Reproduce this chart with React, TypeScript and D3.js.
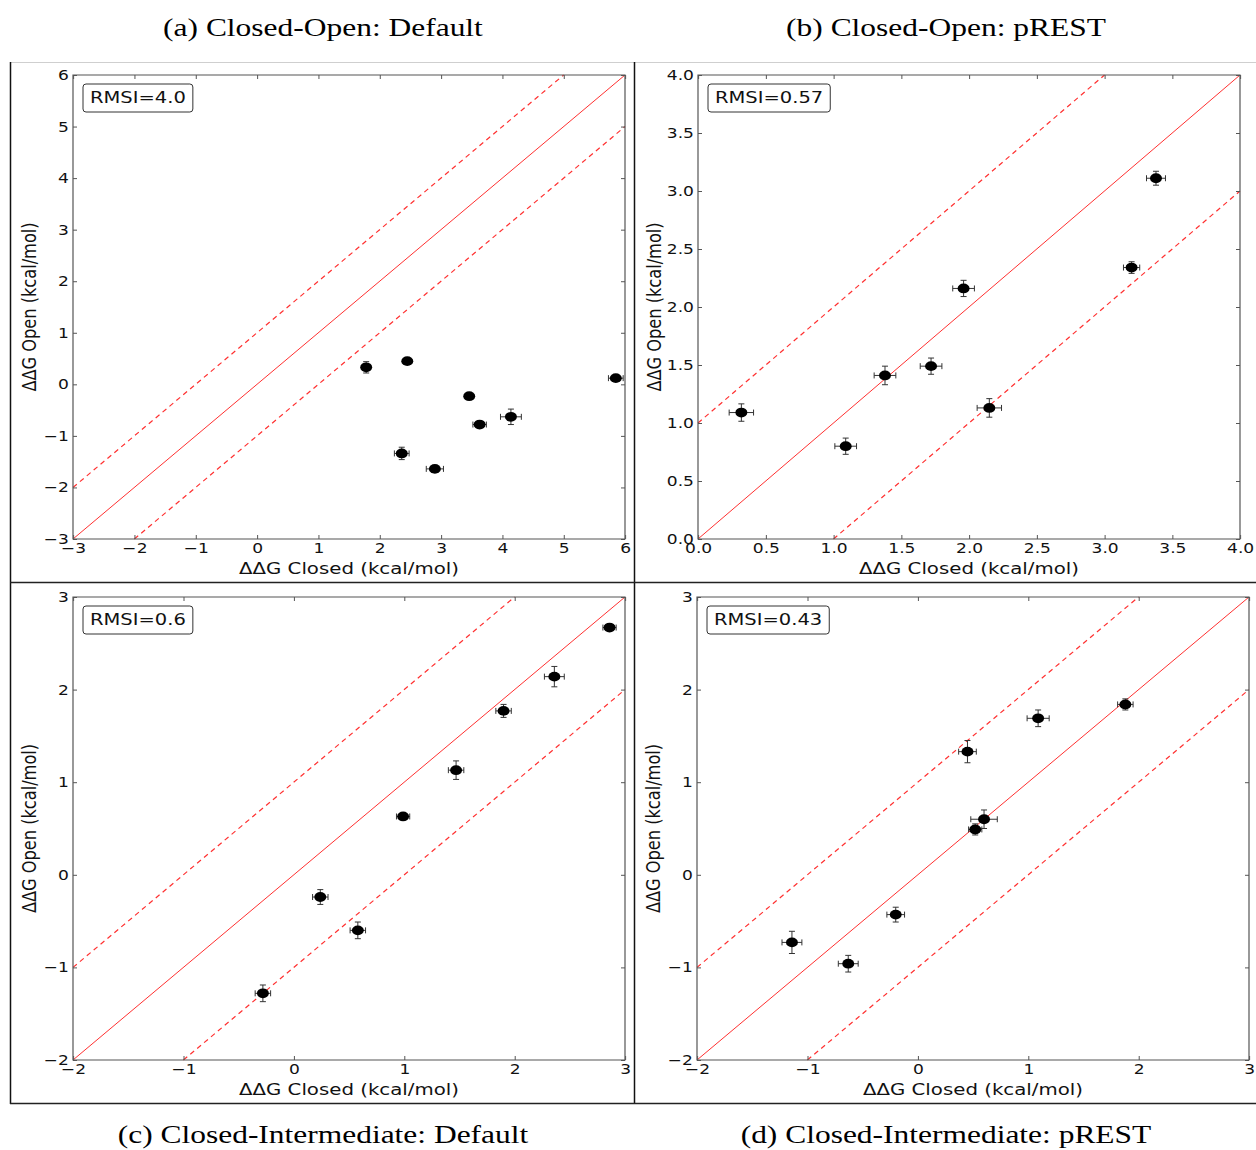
import React, { useRef, useEffect } from 'react'
import * as d3 from 'd3'

// the source page is stretched sideways, so everything is drawn in a squeezed
// space and widened back by SX
const SX = 1.22
const SANS = '"DejaVu Sans", sans-serif'
const SERIF = '"Liberation Serif", serif'

// (a) Closed-Open: Default
const aClosed = [1.78, 2.45, 2.36, 2.9, 3.46, 3.63, 4.14, 5.85]
const aOpen = [0.33, 0.45, -1.34, -1.64, -0.23, -0.78, -0.63, 0.12]
const aClosedErr = [0.06, 0.04, 0.12, 0.14, 0.05, 0.11, 0.17, 0.12]
const aOpenErr = [0.11, 0.04, 0.12, 0.04, 0.04, 0.06, 0.15, 0.04]

// (b) Closed-Open: pREST
const bClosed = [0.32, 1.09, 1.38, 1.72, 1.96, 2.15, 3.2, 3.38]
const bOpen = [1.09, 0.8, 1.41, 1.49, 2.16, 1.13, 2.34, 3.11]
const bClosedErr = [0.09, 0.08, 0.08, 0.08, 0.08, 0.09, 0.06, 0.07]
const bOpenErr = [0.075, 0.07, 0.08, 0.07, 0.07, 0.08, 0.05, 0.06]

// (c) Closed-Intermediate: Default
const cClosed = [-0.28, 0.24, 0.58, 0.99, 1.47, 1.9, 2.36, 2.86]
const cOpen = [-1.28, -0.24, -0.6, 0.63, 1.13, 1.77, 2.14, 2.67]
const cClosedErr = [0.07, 0.07, 0.07, 0.06, 0.07, 0.07, 0.09, 0.06]
const cOpenErr = [0.09, 0.08, 0.09, 0.03, 0.1, 0.07, 0.11, 0.03]

// (d) Closed-Intermediate: pREST
const dClosed = [-1.14, -0.63, -0.2, 0.45, 0.52, 0.6, 1.09, 1.88]
const dOpen = [-0.73, -0.96, -0.43, 1.33, 0.49, 0.6, 1.69, 1.84]
const dClosedErr = [0.09, 0.09, 0.08, 0.08, 0.06, 0.12, 0.1, 0.07]
const dOpenErr = [0.12, 0.09, 0.08, 0.12, 0.06, 0.1, 0.09, 0.06]

const ticksA = [-3, -2, -1, 0, 1, 2, 3, 4, 5, 6]
const ticksB = [0, 0.5, 1, 1.5, 2, 2.5, 3, 3.5, 4]
const ticksCD = [-2, -1, 0, 1, 2, 3]

const rmsiLabels = ['RMSI=4.0', 'RMSI=0.57', 'RMSI=0.6', 'RMSI=0.43']
const captions = [
  '(a) Closed-Open: Default',
  '(b) Closed-Open: pREST',
  '(c) Closed-Intermediate: Default',
  '(d) Closed-Intermediate: pREST',
]

const xLabel = 'ΔΔG Closed (kcal/mol)'
const yLabel = 'ΔΔG Open (kcal/mol)'

const zipPoints = (xs: number[], ys: number[], xe: number[], ye: number[]) =>
  xs.map((x, i) => ({ x, y: ys[i], xe: xe[i], ye: ye[i] }))

const panels = [
  { left: 73, right: 625, top: 75, bottom: 539, domain: [-3, 6], ticks: ticksA, dec: false,
    points: zipPoints(aClosed, aOpen, aClosedErr, aOpenErr), rmsi: rmsiLabels[0] },
  { left: 698, right: 1240, top: 75, bottom: 539, domain: [0, 4], ticks: ticksB, dec: true,
    points: zipPoints(bClosed, bOpen, bClosedErr, bOpenErr), rmsi: rmsiLabels[1] },
  { left: 73, right: 625, top: 597, bottom: 1060, domain: [-2, 3], ticks: ticksCD, dec: false,
    points: zipPoints(cClosed, cOpen, cClosedErr, cOpenErr), rmsi: rmsiLabels[2] },
  { left: 697, right: 1249, top: 597, bottom: 1060, domain: [-2, 3], ticks: ticksCD, dec: false,
    points: zipPoints(dClosed, dOpen, dClosedErr, dOpenErr), rmsi: rmsiLabels[3] },
]

export default function App() {
  const svgRef = useRef<SVGSVGElement>(null)

  useEffect(() => {
    const svg = d3.select(svgRef.current)
    svg.selectAll('*').remove()

    // frames around the four sub-figures
    const frame = svg.append('g')
    frame.append('line').attr('x1', 10).attr('x2', 1256).attr('y1', 62.5).attr('y2', 62.5)
      .attr('stroke', '#cfcfcf').attr('stroke-width', 1.2)
    ;[10.5, 634.5].forEach(xv => {
      frame.append('line').attr('x1', xv).attr('x2', xv).attr('y1', 62).attr('y2', 1104)
        .attr('stroke', '#111').attr('stroke-width', 1.5)
    })
    ;[582.5, 1103.5].forEach(yv => {
      frame.append('line').attr('x1', 10).attr('x2', 1256).attr('y1', yv).attr('y2', yv)
        .attr('stroke', '#222').attr('stroke-width', 1.5)
    })

    const g = svg.append('g').attr('transform', `scale(${SX},1)`)

    // captions
    const capPos = [[323, 36], [946, 36], [323, 1143], [946, 1143]]
    captions.forEach((c, i) => {
      g.append('text').attr('x', capPos[i][0] / SX).attr('y', capPos[i][1])
        .attr('text-anchor', 'middle').attr('font-family', SERIF).attr('font-size', 25.8)
        .attr('fill', '#000').text(c)
    })

    panels.forEach(p => {
      const x = d3.scaleLinear().domain(p.domain).range([p.left / SX, p.right / SX])
      const y = d3.scaleLinear().domain(p.domain).range([p.bottom, p.top])
      const pg = g.append('g')
      const [lo, hi] = p.domain

      // y = x and the +-1 kcal/mol band
      ;[0, 1, -1].forEach(c => {
        const x0 = Math.max(lo, lo - c)
        const x1 = Math.min(hi, hi - c)
        pg.append('line')
          .attr('x1', x(x0)).attr('y1', y(x0 + c))
          .attr('x2', x(x1)).attr('y2', y(x1 + c))
          .attr('stroke', '#ff3030').attr('stroke-width', c === 0 ? 1 : 1.2)
          .attr('vector-effect', 'non-scaling-stroke')
          .attr('stroke-dasharray', c === 0 ? null : '5,4')
      })

      // error bars
      const cap = 3
      const eb = pg.append('g').attr('stroke', '#333').attr('stroke-width', 1)
      p.points.forEach(d => {
        const cx = x(d.x), cy = y(d.y)
        const xa = x(d.x - d.xe), xb = x(d.x + d.xe)
        const ya = y(d.y - d.ye), yb = y(d.y + d.ye)
        const segs = [
          [xa, cy, xb, cy], [xa, cy - cap, xa, cy + cap], [xb, cy - cap, xb, cy + cap],
          [cx, ya, cx, yb], [cx - cap / SX, ya, cx + cap / SX, ya], [cx - cap / SX, yb, cx + cap / SX, yb],
        ]
        segs.forEach(s => {
          eb.append('line').attr('x1', s[0]).attr('y1', s[1]).attr('x2', s[2]).attr('y2', s[3])
            .attr('vector-effect', 'non-scaling-stroke')
        })
      })

      // markers
      pg.selectAll('circle.pt').data(p.points).join('circle')
        .attr('cx', d => x(d.x)).attr('cy', d => y(d.y)).attr('r', 4.9)
        .attr('fill', '#000')

      // spines
      pg.append('rect')
        .attr('x', p.left / SX).attr('y', p.top)
        .attr('width', (p.right - p.left) / SX).attr('height', p.bottom - p.top)
        .attr('fill', 'none').attr('stroke', '#555').attr('stroke-width', 1.2)
        .attr('vector-effect', 'non-scaling-stroke')

      const fmt = p.dec ? d3.format('.1f') : d3.format('d')
      const styleAxis = (ax: any) => {
        ax.select('.domain').remove()
        ax.attr('font-family', SANS).attr('font-size', 14)
        ax.selectAll('line').attr('stroke', '#555').attr('vector-effect', 'non-scaling-stroke')
        ax.selectAll('text').attr('fill', '#111')
      }

      const axB = pg.append('g').attr('transform', `translate(0,${p.bottom})`)
        .call(d3.axisBottom(x).tickValues(p.ticks).tickFormat(fmt as any).tickSize(-4).tickSizeOuter(0).tickPadding(4))
      styleAxis(axB)
      const axL = pg.append('g').attr('transform', `translate(${p.left / SX},0)`)
        .call(d3.axisLeft(y).tickValues(p.ticks).tickFormat(fmt as any).tickSize(-4 / SX).tickSizeOuter(0).tickPadding(3.3))
      styleAxis(axL)
      const axT = pg.append('g').attr('transform', `translate(0,${p.top})`)
        .call(d3.axisTop(x).tickValues(p.ticks).tickFormat(() => '').tickSize(-4).tickSizeOuter(0))
      styleAxis(axT)
      const axR = pg.append('g').attr('transform', `translate(${p.right / SX},0)`)
        .call(d3.axisRight(y).tickValues(p.ticks).tickFormat(() => '').tickSize(-4 / SX).tickSizeOuter(0))
      styleAxis(axR)

      // axis titles
      pg.append('text')
        .attr('x', (p.left + p.right) / 2 / SX).attr('y', p.bottom + 35)
        .attr('text-anchor', 'middle').attr('font-family', SANS).attr('font-size', 16.2)
        .attr('fill', '#111').text(xLabel)
      pg.append('text')
        .attr('transform', `translate(${(p.left - 37) / SX},${(p.top + p.bottom) / 2}) rotate(-90)`)
        .attr('text-anchor', 'middle').attr('font-family', SANS).attr('font-size', 16.2)
        .attr('fill', '#111').text(yLabel)

      // RMSI box
      const pad = 7 / SX
      const bx = (p.left + 10) / SX
      const by = p.top + 9
      const box = pg.append('rect')
      const t = pg.append('text')
        .attr('x', bx + pad).attr('y', by + 19)
        .attr('font-family', SANS).attr('font-size', 16).attr('fill', '#111')
        .text(p.rmsi)
      const len = (t.node() as SVGTextElement).getComputedTextLength()
      box.attr('x', bx).attr('y', by).attr('width', len + 2 * pad).attr('height', 28)
        .attr('rx', 3 / SX).attr('ry', 3)
        .attr('fill', '#fff').attr('stroke', '#333').attr('stroke-width', 1)
        .attr('vector-effect', 'non-scaling-stroke')
    })
  }, [])

  return (
    <svg
      ref={svgRef}
      width={1256}
      height={1150}
      style={{ position: 'absolute', left: 0, top: 0, background: '#fff' }}
    />
  )
}
